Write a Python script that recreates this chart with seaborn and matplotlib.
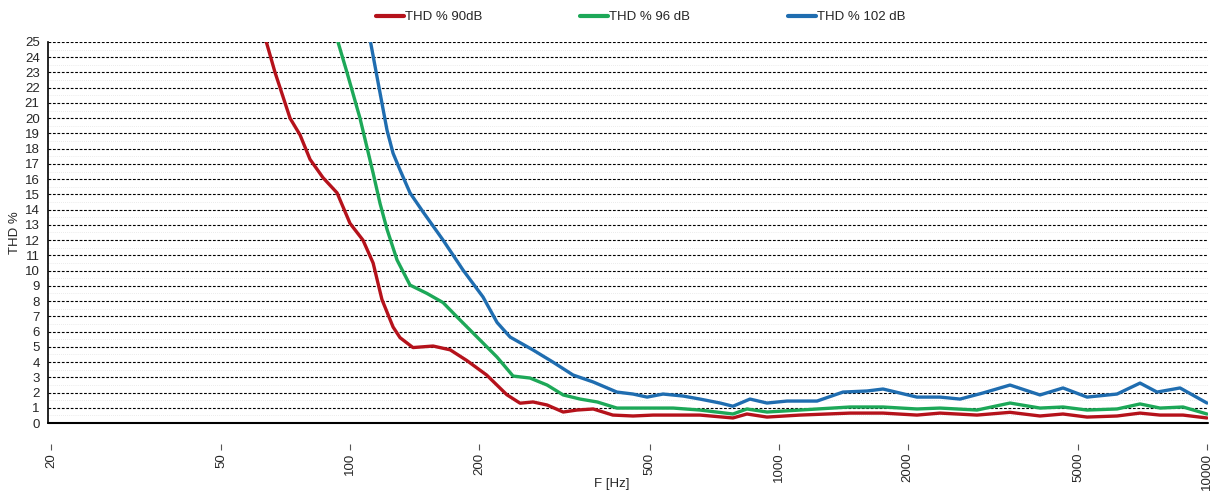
import numpy as np
import pandas as pd
import matplotlib
matplotlib.use("Agg")
import matplotlib.pyplot as plt
import seaborn as sns
from matplotlib.ticker import FixedLocator, FixedFormatter, MultipleLocator

# ---- data ----
red_f = [63.2, 66.7, 72.3, 76.3, 80.5, 86.3, 93.1, 99.8, 107, 113, 118.5, 125.8, 130.6,
         140, 156, 171, 187, 208, 232, 249, 267, 288, 314, 338, 369, 410, 457, 509, 567,
         655, 782, 843, 939, 1121, 1467, 1752, 2103, 2380, 2904, 3468, 4075, 4611, 5248,
         6165, 6977, 7768, 8790, 10000]
red_y = [25.3, 23.0, 20.0, 18.9, 17.3, 16.1, 15.1, 13.1, 12.0, 10.5, 8.1, 6.3, 5.6,
         4.95, 5.05, 4.8, 4.1, 3.15, 1.85, 1.3, 1.38, 1.18, 0.72, 0.85, 0.92, 0.52, 0.46,
         0.52, 0.52, 0.52, 0.33, 0.59, 0.39, 0.52, 0.65, 0.65, 0.52, 0.65, 0.52, 0.7, 0.46,
         0.59, 0.39, 0.46, 0.65, 0.52, 0.52, 0.33]

green_f = [93.1, 98.2, 105.3, 109.3, 113, 117.3, 121.8, 128.5, 137.8, 151, 164.6, 177.4,
           197.6, 219.9, 239.8, 262.7, 288, 314, 344, 377, 419, 457, 509, 567, 655, 782,
           843, 939, 1121, 1467, 1752, 2103, 2380, 2904, 3468, 4075, 4611, 5248, 6165,
           6977, 7768, 8790, 10000]
green_y = [25.2, 23.0, 20.0, 18.1, 16.4, 14.4, 12.7, 10.7, 9.05, 8.5, 7.9, 6.96, 5.64,
           4.33, 3.08, 2.95, 2.49, 1.84, 1.57, 1.38, 0.98, 0.98, 0.98, 0.98, 0.85, 0.59,
           0.92, 0.72, 0.85, 1.05, 1.05, 0.92, 0.98, 0.85, 1.31, 0.98, 1.05, 0.85, 0.92,
           1.25, 0.98, 1.05, 0.59]

blue_f = [111.1, 117.3, 121.8, 125.8, 130.6, 137.8, 147.8, 164.6, 183.2, 204, 220, 236,
          267, 297, 331, 369, 419, 457, 493, 537, 598, 655, 730, 782, 857, 939, 1046,
          1229, 1413, 1608, 1752, 2103, 2380, 2651, 2999, 3468, 4075, 4611, 5248, 6165,
          6977, 7644, 8650, 10000]
blue_y = [25.2, 21.65, 19.2, 17.7, 16.6, 15.1, 13.85, 12.0, 10.04, 8.27, 6.6, 5.64,
          4.79, 4.0, 3.15, 2.69, 2.03, 1.9, 1.7, 1.9, 1.77, 1.57, 1.31, 1.1, 1.57, 1.31,
          1.44, 1.44, 2.03, 2.1, 2.23, 1.7, 1.7, 1.57, 1.97, 2.49, 1.84, 2.3, 1.7, 1.9,
          2.62, 2.03, 2.3, 1.31]

series_names = ["THD % 90dB", "THD % 96 dB", "THD % 102 dB"]
series_colors = ["#B5121B", "#1DA858", "#1F6DB0"]
x_ticks = [20, 50, 100, 200, 500, 1000, 2000, 5000, 10000]
x_tick_labels = ["20", "50", "100", "200", "500", "1000", "2000", "5000", "10000"]
y_ticks = list(range(0, 26))

df = pd.concat([
    pd.DataFrame({"F": red_f, "THD": red_y, "series": series_names[0]}),
    pd.DataFrame({"F": green_f, "THD": green_y, "series": series_names[1]}),
    pd.DataFrame({"F": blue_f, "THD": blue_y, "series": series_names[2]}),
], ignore_index=True)

sns.set_style("white")
plt.rcParams["font.family"] = ["Liberation Sans", "DejaVu Sans"]

W, H = 1215, 496
fig = plt.figure(figsize=(W / 100, H / 100), dpi=100)
L, R, T, B = 48, 1208, 42, 423
ax = fig.add_axes([L / W, 1 - B / H, (R - L) / W, (B - T) / H])

sns.lineplot(data=df, x="F", y="THD", hue="series", palette=series_colors,
             hue_order=series_names, linewidth=2.4, ax=ax, sort=False,
             estimator=None, legend=True)
for ln in ax.get_lines():
    ln.set_solid_joinstyle("round")

ax.set_xscale("log")
dec_px = (1207 - 51) / np.log10(10000 / 20)
ax.set_xlim(20 * 10 ** (-(51 - L) / dec_px), 10000 * 10 ** ((R - 1207) / dec_px))
ax.set_ylim(0, 25)

ax.xaxis.set_major_locator(FixedLocator(x_ticks))
ax.xaxis.set_major_formatter(FixedFormatter(x_tick_labels))
ax.xaxis.set_minor_locator(FixedLocator([]))
ax.set_yticks(y_ticks)
ax.yaxis.set_minor_locator(MultipleLocator(0.5))

ax.grid(axis="y", which="major", color="black", linestyle=(0, (2.5, 1.5)), linewidth=0.8)
ax.grid(axis="y", which="minor", color="#e4e4e4", linestyle=(0, (1, 1.5)), linewidth=0.6)
ax.grid(axis="x", visible=False)
ax.set_axisbelow(True)

for s in ["top", "right"]:
    ax.spines[s].set_visible(False)
ax.spines["left"].set_color("black")
ax.spines["left"].set_linewidth(1.2)
ax.spines["bottom"].set_position(("outward", 17))
ax.spines["bottom"].set_color((1, 1, 1, 0))
ax.axhline(0, color="black", linewidth=1.5, clip_on=False, zorder=5)

ax.tick_params(axis="x", which="major", direction="inout", length=5, width=0.8,
               color="#555555", bottom=True, labelsize=9.5, labelrotation=90, pad=2)
ax.tick_params(axis="y", which="major", length=0, labelsize=9.5, pad=6)
ax.tick_params(axis="y", which="minor", length=0)

ax.set_xlabel("F [Hz]", fontsize=9.5)
ax.xaxis.set_label_coords((612 - L) / (R - L), (B - 478) / (B - T))
ax.set_ylabel("THD %", fontsize=9.5, labelpad=3)

leg = ax.legend(title=None, loc="lower center", bbox_to_anchor=((641 - L) / (R - L), 1.035),
                ncol=3, frameon=False, fontsize=9.5, columnspacing=7.4,
                handlelength=2.1, handletextpad=0.1, borderaxespad=0)
for line in leg.get_lines():
    line.set_linewidth(3)

fig.savefig("out.png", dpi=100)
